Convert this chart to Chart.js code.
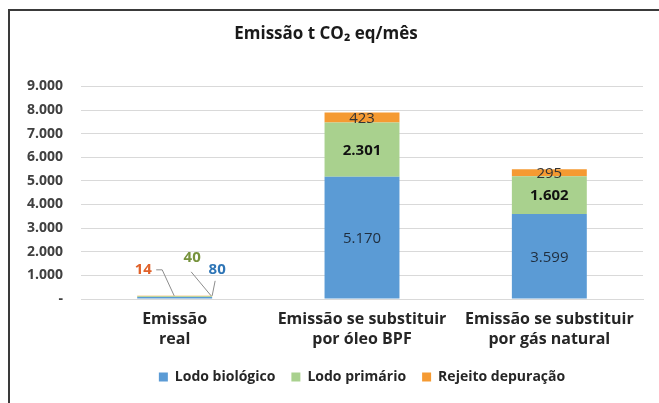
<!DOCTYPE html>
<html>
<head>
<meta charset="utf-8">
<script src="https://cdn.jsdelivr.net/npm/chart.js@4"></script>
<style>
  body { margin: 0; background: #fff; }
  #wrap { position: relative; width: 659px; height: 403px; }
  #frame { position: absolute; left: 8px; top: 9px; right: 0; bottom: 0;
           border-left: 2px solid #3a3a3a; border-top: 2px solid #3a3a3a; pointer-events: none; }
</style>
</head>
<body>
<div id="wrap">
  <canvas id="grafico" width="659" height="403"></canvas>
  <div id="frame"></div>
</div>
<script>
// categorias (eixo x)
var categorias = [
  ['Emissão', 'real'],
  ['Emissão se substituir', 'por óleo BPF'],
  ['Emissão se substituir', 'por gás natural']
];
// valores das séries (t CO2 eq/mês)
var lodoBiologico = [80, 5170, 3599];
var lodoPrimario = [40, 2301, 1602];
var rejeitoDepuracao = [14, 423, 295];
// eixo y
var yMax = 9000;
var yPasso = 1000;

var fonte = "'Open Sans', 'DejaVu Sans', sans-serif";

function formata(v) {
  if (v == 0) return '-';
  return String(v).replace(/\B(?=(\d{3})+(?!\d))/g, '.');
}

// cores / pesos dos rótulos de cada série
var corRotuloFora = ['#2e75b6', '#76923c', '#e0622a'];
var corRotuloDentro = ['#1f2d3d', '#111111', '#333333'];
var pesoRotuloDentro = ['normal', 'bold', 'normal'];

var rotulos = {
  id: 'rotulos',
  afterDatasetsDraw: function(chart) {
    var ctx = chart.ctx;
    ctx.save();
    ctx.textAlign = 'center';
    ctx.textBaseline = 'middle';
    chart.data.datasets.forEach(function(ds, i) {
      var meta = chart.getDatasetMeta(i);
      ctx.font = pesoRotuloDentro[i] + ' 15px ' + fonte;
      meta.data.forEach(function(bar, j) {
        var valor = ds.data[j];
        if (j > 0) {
          ctx.fillStyle = corRotuloDentro[i];
          ctx.fillText(formata(valor), bar.x, (bar.y + bar.base) / 2 + 1);
        }
      });
    });

    // barra pequena: rótulos fora com linhas de chamada
    var b = chart.getDatasetMeta(2).data[0];
    var L = b.x - b.width / 2, R = b.x + b.width / 2, T = b.y;
    ctx.strokeStyle = '#8c8c8c';
    ctx.lineWidth = 1;
    ctx.beginPath();
    ctx.moveTo(L + 19, T - 26); ctx.lineTo(L + 25, T - 26); ctx.lineTo(L + 37, T);
    ctx.moveTo(R - 21, T - 24); ctx.lineTo(R - 1, T);
    ctx.moveTo(R + 3, T - 15); ctx.lineTo(R, T);
    ctx.stroke();

    ctx.font = 'bold 15px ' + fonte;
    ctx.fillStyle = corRotuloFora[2];
    ctx.fillText(formata(rejeitoDepuracao[0]), L + 6, T - 26);
    ctx.fillStyle = corRotuloFora[1];
    ctx.fillText(formata(lodoPrimario[0]), R - 20, T - 38);
    ctx.fillStyle = corRotuloFora[0];
    ctx.fillText(formata(lodoBiologico[0]), R + 5, T - 26);
    ctx.restore();
  }
};

var grafico = new Chart(document.getElementById('grafico'), {
  type: 'bar',
  data: {
    labels: categorias,
    datasets: [
      { label: 'Lodo biológico', data: lodoBiologico, backgroundColor: '#5b9bd5' },
      { label: 'Lodo primário', data: lodoPrimario, backgroundColor: '#a9d18e' },
      { label: 'Rejeito depuração', data: rejeitoDepuracao, backgroundColor: '#f59a32' }
    ]
  },
  options: {
    responsive: false,
    animation: false,
    layout: { padding: { left: 9, right: 16, top: 10, bottom: 9 } },
    datasets: { bar: { categoryPercentage: 1, barPercentage: 0.4 } },
    plugins: {
      title: {
        display: true,
        text: 'Emissão t CO₂ eq/mês',
        color: '#1a1a1a',
        font: { family: fonte, size: 17, weight: 'bold' },
        padding: { top: 14, bottom: 42 }
      },
      legend: {
        position: 'bottom',
        fullSize: false,
        labels: {
          color: '#262626',
          font: { family: fonte, size: 14, weight: 'bold' },
          boxWidth: 9,
          boxHeight: 9,
          padding: 16
        }
      },
      tooltip: { enabled: false }
    },
    scales: {
      x: {
        stacked: true,
        grid: { display: false },
        border: { display: true, color: '#d9d9d9' },
        afterFit: function(scale) { scale.height = 55; },
        ticks: {
          color: '#262626',
          font: { family: fonte, size: 16, weight: 'bold', lineHeight: 1.25 },
          padding: 2,
          maxRotation: 0
        }
      },
      y: {
        stacked: true,
        min: 0,
        max: yMax,
        grid: { color: '#d9d9d9', drawTicks: false },
        border: { display: false },
        ticks: {
          stepSize: yPasso,
          padding: 18,
          color: '#404040',
          font: { family: fonte, size: 14, weight: 'bold' },
          callback: function(v) { return formata(v); }
        }
      }
    }
  },
  plugins: [rotulos]
});
</script>
</body>
</html>
